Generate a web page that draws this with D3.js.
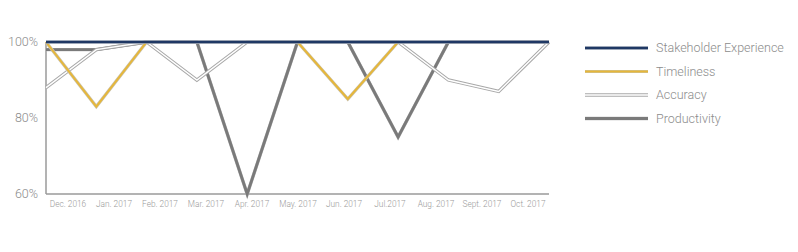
<!DOCTYPE html>
<html>
<head>
<meta charset="utf-8">
<script src="https://cdn.jsdelivr.net/npm/d3@7"></script>
<style>
  body { margin: 0; background: #fff; }
  svg { display: block; font-family: Roboto, "Liberation Sans", sans-serif; }
</style>
</head>
<body>
<svg id="chart" width="798" height="252"></svg>
<script>
// 月ラベル
const months = ['Dec. 2016', 'Jan. 2017', 'Feb. 2017', 'Mar. 2017', 'Apr. 2017', 'May. 2017',
  'Jun. 2017', 'Jul.2017', 'Aug. 2017', 'Sept. 2017', 'Oct. 2017'];

// 系列ごとの値（%）
const stakeholder = [100, 100, 100, 100, 100, 100, 100, 100, 100, 100, 100];
const timeliness = [100, 83, 100, 100, 100, 100, 85, 100, 100, 100, 100];
const accuracy = [88, 98, 100, 90, 100, 100, 100, 100, 90, 87, 100];
const productivity = [98, 98, 100, 100, 60, 100, 100, 75, 100, 100, 100];

const yTicks = [60, 80, 100];

const seriesNames = ['Stakeholder Experience', 'Timeliness', 'Accuracy', 'Productivity'];

// 線のスタイル（外側の縁取り + 内側の線）
const styles = {
  'Stakeholder Experience': { color: '#1f3864', width: 2.6, edge: '#b8bec8', edgeWidth: 3.6 },
  'Timeliness': { color: '#e6b73a', width: 2, edge: '#c9c2ad', edgeWidth: 3.2 },
  'Accuracy': { color: '#ffffff', width: 1.4, edge: '#a8a8a8', edgeWidth: 3.4 },
  'Productivity': { color: '#7a7a7a', width: 2.8, edge: '#b5b5b5', edgeWidth: 3.4 }
};

const series = [
  { name: 'Productivity', values: productivity },
  { name: 'Accuracy', values: accuracy },
  { name: 'Timeliness', values: timeliness },
  { name: 'Stakeholder Experience', values: stakeholder }
];

const svg = d3.select('#chart');
const plotLeft = 46, plotRight = 549, plotTop = 42, plotBottom = 194;

const x = d3.scalePoint().domain(months).range([plotLeft, plotRight]);
const xBand = d3.scaleBand().domain(months).range([plotLeft - 1, plotRight + 2]);
const y = d3.scaleLinear().domain([60, 100]).range([plotBottom, plotTop]);

// 軸
svg.append('line')
  .attr('x1', plotLeft).attr('x2', plotLeft).attr('y1', plotTop).attr('y2', plotBottom)
  .attr('stroke', '#9a9a9a').attr('stroke-width', 1.5);
svg.append('line')
  .attr('x1', plotLeft).attr('x2', plotRight).attr('y1', plotBottom).attr('y2', plotBottom)
  .attr('stroke', '#9a9a9a').attr('stroke-width', 1.5);

svg.append('g').selectAll('text')
  .data(yTicks)
  .join('text')
  .attr('x', 38)
  .attr('y', (d) => y(d))
  .attr('dy', '0.35em')
  .attr('text-anchor', 'end')
  .attr('fill', '#8c8c8c')
  .style('font-size', '12.5px')
  .style('font-weight', 300)
  .text((d) => d + '%');

svg.append('g').selectAll('text')
  .data(months)
  .join('text')
  .attr('x', (d) => xBand(d) + xBand.bandwidth() / 2)
  .attr('y', 207)
  .attr('text-anchor', 'middle')
  .attr('fill', '#9a9a9a')
  .style('font-size', '8.3px')
  .style('font-weight', 300)
  .text((d) => d);

const line = d3.line()
  .x((d, i) => x(months[i]))
  .y((d) => y(d));

// 系列の描画
const g = svg.append('g');
series.forEach((s) => {
  const st = styles[s.name];
  g.append('path')
    .attr('d', line(s.values))
    .attr('fill', 'none')
    .attr('stroke', st.edge)
    .attr('stroke-width', st.edgeWidth);
  g.append('path')
    .attr('d', line(s.values))
    .attr('fill', 'none')
    .attr('stroke', st.color)
    .attr('stroke-width', st.width);
});

// 凡例
const legend = svg.append('g').selectAll('g')
  .data(seriesNames)
  .join('g')
  .attr('transform', (d, i) => `translate(585, ${48 + i * 23.5})`);

legend.append('line')
  .attr('x1', 0).attr('x2', 63)
  .attr('stroke', (d) => styles[d].edge)
  .attr('stroke-width', (d) => styles[d].edgeWidth);
legend.append('line')
  .attr('x1', 0).attr('x2', 63)
  .attr('stroke', (d) => styles[d].color)
  .attr('stroke-width', (d) => styles[d].width);
legend.append('text')
  .attr('x', 71)
  .attr('dy', '0.35em')
  .attr('fill', '#8c8c8c')
  .style('font-size', '12.5px')
  .style('font-weight', 300)
  .text((d) => d);
</script>
</body>
</html>
